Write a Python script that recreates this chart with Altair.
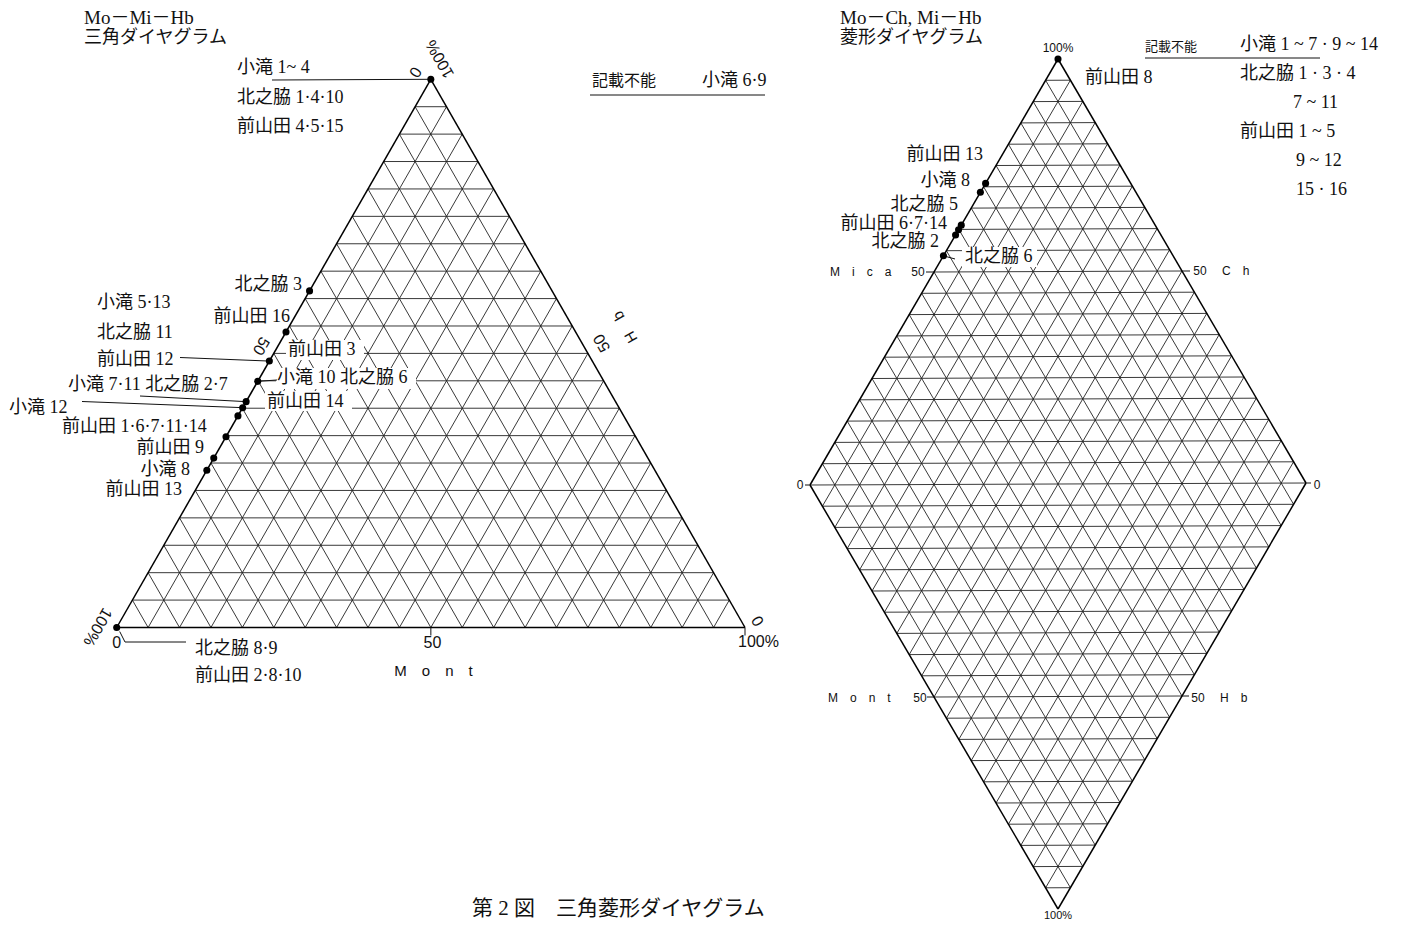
import altair as alt
import pandas as pd

# ======================= data =======================
# 三角ダイヤグラム (Mo–Mi–Hb): composition in % of every plotted position
tri_mont = [0, 0, 0, 0, 0, 0, 0, 0, 0, 0, 0, 0]
tri_hb = [100, 61.4, 53.9, 48.6, 44.9, 41.2, 40.1, 38.6, 34.8, 30.9, 28.7, 0]

# 菱形ダイヤグラム (Mo–Ch, Mi–Hb): Mi share of (Mi+Hb) and Mo share of (Mo+Ch), %
dia_mi = [100, 70.8, 68.7, 61.0, 59.9, 58.7, 53.8]
dia_mo = [0, 0, 0, 0, 0, 0, 0]

grid_steps = 20

titles = ["Mo－Mi－Hb", "三角ダイヤグラム", "Mo－Ch, Mi－Hb", "菱形ダイヤグラム"]
caption = "第 2 図　三角菱形ダイヤグラム"

tri_labels = [
    "小滝 1~ 4", "北之脇 1·4·10", "前山田 4·5·15",
    "北之脇 3", "前山田 16", "小滝 5·13", "北之脇 11", "前山田 12", "前山田 3",
    "小滝 7·11 北之脇 2·7", "小滝 10 北之脇 6", "小滝 12", "前山田 14",
    "前山田 1·6·7·11·14", "前山田 9", "小滝 8", "前山田 13",
    "北之脇 8·9", "前山田 2·8·10",
]
tri_note = ["記載不能", "小滝 6·9"]

dia_labels = ["前山田 8", "前山田 13", "小滝 8", "北之脇 5", "前山田 6·7·14", "北之脇 2", "北之脇 6"]
dia_note = ["記載不能", "小滝 1 ~ 7 · 9 ~ 14", "北之脇 1 · 3 · 4", "7 ~ 11", "前山田 1 ~ 5", "9 ~ 12", "15 · 16"]

pct = ["0", "50", "100%"]
EM = "\u2003"
axis_names = [EM.join("Mont"), EM.join("Hb"), EM.join("Mica"), EM.join("Ch")]

# ======================= layout (page pixels) =======================
W, H = 1394, 913
SERIF = "Liberation Serif, Noto Sans CJK JP"
SANS = "Liberation Sans, Noto Sans CJK JP"

T_MICA = (116.7, 627.5)  # Mica 100 %
T_MONT = (745.0, 627.5)  # Mont 100 %
T_HB = (430.8, 79.3)     # Hb 100 %

D_LEFT = (810.0, 485.0)
D_TOP = (1058.0, 59.0)
D_BOT = (1058.0, 909.0)


def tri_xy(mont, hb):
    a = mont / 100.0
    c = hb / 100.0
    b = 1.0 - a - c
    return (a * T_MONT[0] + b * T_MICA[0] + c * T_HB[0],
            a * T_MONT[1] + b * T_MICA[1] + c * T_HB[1])


def dia_xy(mi, mo):
    u = mi / 100.0
    v = mo / 100.0
    return (D_LEFT[0] + u * (D_TOP[0] - D_LEFT[0]) + v * (D_BOT[0] - D_LEFT[0]),
            D_LEFT[1] + u * (D_TOP[1] - D_LEFT[1]) + v * (D_BOT[1] - D_LEFT[1]))


def seg(p, q):
    return dict(x=p[0], y=p[1], x2=q[0], y2=q[1])


# ---- grid & frame segments
grid, frame = [], []
for k in range(1, grid_steps):
    f = 100.0 * k / grid_steps
    grid.append(seg(tri_xy(0, f), tri_xy(100 - f, f)))          # constant Hb
    grid.append(seg(tri_xy(f, 0), tri_xy(f, 100 - f)))          # constant Mont
    grid.append(seg(tri_xy(100 - f, 0), tri_xy(0, 100 - f)))    # constant Mica
    grid.append(seg(dia_xy(f, 0), dia_xy(f, 100)))              # constant Mi share
    grid.append(seg(dia_xy(0, f), dia_xy(100, f)))              # constant Mo share
for k in range(-grid_steps + 1, grid_steps):
    c = 100.0 * k / grid_steps
    if c >= 0:
        grid.append(seg(dia_xy(c, 0), dia_xy(100, 100 - c)))
    else:
        grid.append(seg(dia_xy(0, -c), dia_xy(100 + c, 100)))

frame.append(seg(tri_xy(0, 0), tri_xy(100, 0)))
frame.append(seg(tri_xy(100, 0), tri_xy(0, 100)))
frame.append(seg(tri_xy(0, 100), tri_xy(0, 0)))
frame.append(seg(dia_xy(0, 0), dia_xy(100, 0)))
frame.append(seg(dia_xy(100, 0), dia_xy(100, 100)))
frame.append(seg(dia_xy(100, 100), dia_xy(0, 100)))
frame.append(seg(dia_xy(0, 100), dia_xy(0, 0)))

# ---- ticks and leader lines
lines = []
for m in (50, 100):
    p = tri_xy(m, 0)
    lines.append(seg(p, (p[0], p[1] + 8)))
for p, d in ((dia_xy(50, 0), -8), (dia_xy(100, 50), 8), (dia_xy(0, 0), -5),
             (dia_xy(100, 100), 5), (dia_xy(0, 50), -7), (dia_xy(50, 100), 7)):
    lines.append(seg(p, (p[0] + d, p[1])))

tri_pts = [tri_xy(m, h) for m, h in zip(tri_mont, tri_hb)]
dia_pts = [dia_xy(a, b) for a, b in zip(dia_mi, dia_mo)]

lines.append(seg((272, 80), (tri_pts[0][0] - 3, tri_pts[0][1])))      # 小滝 1~4
lines.append(seg((180, 357.5), tri_pts[3]))                            # 前山田 12
lines.append(seg((140, 396), tri_pts[5]))                              # 小滝 7·11 北之脇 2·7
lines.append(seg((82, 401.5), tri_pts[6]))                             # 小滝 12
lines.append(seg(tri_pts[4], (277, 380)))                              # 小滝 10 北之脇 6
lines.append(seg((tri_pts[-1][0] + 3, tri_pts[-1][1] + 4), (125, 642)))
lines.append(seg((125, 642), (186, 642)))
lines.append(seg((590, 95), (765, 95)))                                # 記載不能 (left)
lines.append(seg((1145, 58), (1320, 58)))                              # 記載不能 (right)
lines.append(seg(dia_pts[-1], (955, 259)))                             # 北之脇 6

# white boxes behind labels written over the grid
boxes = [dict(x=286, x2=364, y=340, y2=360),
         dict(x=276, x2=416, y=368, y2=389),
         dict(x=265, x2=352, y=391, y2=411),
         dict(x=962, x2=1037, y=247, y2=267)]

# ---- texts
texts = []


def add(text, x, y, align="left", angle=0, size=18, font=SERIF):
    texts.append(dict(text=text, x=x, y=y, align=align, angle=angle, size=size, font=font))


add(titles[0], 84, 18, size=19)
add(titles[1], 84, 38)
add(titles[2], 840, 18, size=19)
add(titles[3], 840, 38)
add(caption, 472, 909, size=21)

tri_pos = [(237, 68, "left"), (237, 98, "left"), (237, 127, "left"),
           (302, 285, "right"), (290, 317, "right"), (97, 303, "left"), (97, 333, "left"),
           (97, 360, "left"), (288, 350, "left"),
           (68, 385, "left"), (277, 378, "left"), (9, 408, "left"), (267, 402, "left"),
           (62, 427, "left"), (204, 448, "right"), (190, 470, "right"), (182, 490, "right"),
           (195, 649, "left"), (195, 676, "left")]
for t, (x, y, a) in zip(tri_labels, tri_pos):
    add(t, x, y, a)
add(tri_note[0], 592, 81, size=16, font=SANS)
add(tri_note[1], 702, 81)

dia_pos = [(1085, 78, "left"), (983, 155, "right"), (970, 181, "right"), (958, 205, "right"),
           (947, 224, "right"), (939, 242, "right"), (965, 257, "left")]
for t, (x, y, a) in zip(dia_labels, dia_pos):
    add(t, x, y, a)
add(dia_note[0], 1145, 47, size=13, font=SANS)
for t, (x, y) in zip(dia_note[1:], [(1240, 45), (1240, 74), (1293, 103), (1240, 132),
                                   (1296, 161), (1296, 190)]):
    add(t, x, y)

# scale labels, left triangle
add(pct[2], 440, 59, "center", 240, 16, SANS)
add(pct[0], 415, 72, "center", 120, 16, SANS)
add(pct[1], 261, 346, "center", 120, 16, SANS)
add(pct[2], 97.5, 627, "center", 120, 16, SANS)
add(pct[0], 116.7, 643, "center", 0, 16, SANS)
add(pct[1], 432.5, 643, "center", 0, 16, SANS)
add(axis_names[0], 433.5, 671, "center", 0, 15, SANS)
add(pct[0], 758, 621, "center", 240, 16, SANS)
add(pct[2], 758.5, 642, "center", 0, 16, SANS)
add(pct[1], 602, 343, "center", 240, 16, SANS)
add(axis_names[1], 625, 327, "center", 240, 15, SANS)

# scale labels, diamond
add(pct[2], 1058, 48, "center", 0, 12, SANS)
add(pct[2], 1058, 915.5, "center", 0, 11, SANS)
add(axis_names[2], 830, 272, "left", 0, 12, SANS)
add(pct[1], 918, 272, "center", 0, 12, SANS)
add(pct[1], 1200, 271, "center", 0, 12, SANS)
add(axis_names[3], 1222, 271, "left", 0, 12, SANS)
add(pct[0], 800, 485, "center", 0, 12, SANS)
add(pct[0], 1317, 485, "center", 0, 12, SANS)
add(axis_names[0], 828, 698, "left", 0, 12, SANS)
add(pct[1], 920, 698, "center", 0, 12, SANS)
add(pct[1], 1198, 698, "center", 0, 12, SANS)
add(axis_names[1], 1220, 698, "left", 0, 12, SANS)

# ======================= chart =======================
xs = alt.Scale(domain=[8, 8 + W], nice=False, zero=False)
ys = alt.Scale(domain=[8, 8 + H], nice=False, zero=False, reverse=True)


def rules(rows, width, color="#111"):
    return alt.Chart(pd.DataFrame(rows)).mark_rule(color=color, strokeWidth=width).encode(
        x=alt.X("x:Q", scale=xs, axis=None), y=alt.Y("y:Q", scale=ys, axis=None),
        x2="x2:Q", y2="y2:Q")


layers = [rules(grid, 0.9, "#222"), rules(frame, 1.5, "#000")]
layers.append(alt.Chart(pd.DataFrame(boxes)).mark_rect(fill="white").encode(
    x=alt.X("x:Q", scale=xs, axis=None), y=alt.Y("y:Q", scale=ys, axis=None),
    x2="x2:Q", y2="y2:Q"))
layers.append(rules(lines, 1.0, "#111"))

pts = pd.DataFrame([dict(x=p[0], y=p[1]) for p in tri_pts + dia_pts])
layers.append(alt.Chart(pts).mark_circle(color="black", opacity=1, size=50).encode(
    x=alt.X("x:Q", scale=xs, axis=None), y=alt.Y("y:Q", scale=ys, axis=None)))

tdf = pd.DataFrame(texts)
for (align, font), g in tdf.groupby(["align", "font"]):
    layers.append(alt.Chart(g.reset_index(drop=True)).mark_text(
        align=align, baseline="middle", font=font, color="#111").encode(
        x=alt.X("x:Q", scale=xs, axis=None), y=alt.Y("y:Q", scale=ys, axis=None),
        text="text:N", angle=alt.Angle("angle:Q", scale=None),
        size=alt.Size("size:Q", scale=None)))

chart = alt.layer(*layers).properties(
    width=W, height=H, autosize=alt.AutoSizeParams(type="none"), padding=0,
    background="white").configure_view(stroke=None)

chart.save("out.html", embed_options={"renderer": "svg", "actions": False})
